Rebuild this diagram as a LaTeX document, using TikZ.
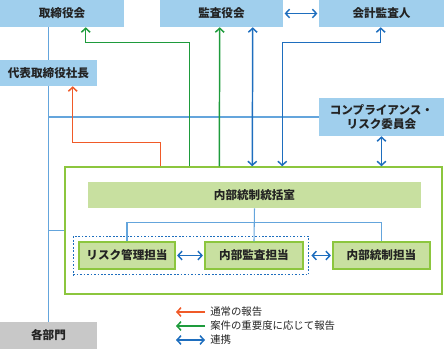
\documentclass[tikz,border=0pt]{standalone}
\usepackage{fontspec}
\setmainfont{Noto Sans CJK JP}
\usetikzlibrary{arrows.meta,calc,fit,backgrounds}
\definecolor{boxblue}{RGB}{160,207,237}
\definecolor{boxgreen}{RGB}{200,224,160}
\definecolor{edgegreen}{RGB}{140,198,62}
\definecolor{boxgray}{RGB}{200,200,200}
\definecolor{arrorange}{RGB}{240,90,40}
\definecolor{arrgreen}{RGB}{30,155,60}
\definecolor{arrblue}{RGB}{30,110,190}
\definecolor{thinblue}{RGB}{100,165,220}
\definecolor{txt}{RGB}{35,35,35}
\tikzset{
  sz/.style 2 args={minimum width=#1*0.75pt, minimum height=#2*0.75pt},
  basebox/.style={inner sep=0pt, text=txt, font=\bfseries\fontsize{8.7pt}{10.5pt}\selectfont, align=center},
  bluebox/.style={basebox, fill=boxblue},
  graybox/.style={basebox, fill=boxgray},
  greenbox/.style={basebox, fill=boxgreen, draw=edgegreen, line width=1.1pt},
  outerbox/.style={draw=edgegreen, line width=1.1pt, inner sep=0pt},
  orarr/.style={draw=arrorange, line width=1.1pt, -{Straight Barb[length=3pt,width=6.5pt]}},
  grarr/.style={draw=arrgreen, line width=1.1pt, -{Straight Barb[length=3pt,width=6.5pt]}},
  blarr/.style={draw=arrblue, line width=1.1pt, {Straight Barb[length=3pt,width=6.5pt]}-{Straight Barb[length=3pt,width=6.5pt]}},
  thin/.style={draw=thinblue, line width=0.8pt},
  grpbox/.style={draw=arrblue, line width=1pt, dash pattern=on 1.3pt off 1.3pt, inner sep=3.75pt},
  leg/.style={inner sep=0pt, text=txt, font=\fontsize{7.8pt}{9pt}\selectfont, anchor=west}
}
\begin{document}
\begin{tikzpicture}[x=0.75pt,y=-0.75pt]
\useasboundingbox (0,0) rectangle (444,349);
% boxes
\node[bluebox, sz={124}{27}] (tori) at (62,13.5) {取締役会};
\node[bluebox, sz={123}{27}] (kansa) at (221.5,13.5) {監査役会};
\node[bluebox, sz={125}{27}] (kaikei) at (381.5,13.5) {会計監査人};
\node[bluebox, sz={97}{26}] (daihyo) at (48.5,73) {代表取締役社長};
\node[bluebox, sz={125}{38}] (comp) at (381.5,117) {コンプライアンス・\\リスク委員会};
\node[outerbox, sz={377}{127}] (outer) at (253.5,230.5) {};
\node[basebox, fill=boxgreen, sz={333}{26}] (tokatsu) at (254.5,195) {内部統制統括室};
\node[greenbox, sz={96}{27}] (risk) at (127,255.5) {リスク管理担当};
\node[greenbox, sz={98}{27}] (naikan) at (254,255.5) {内部監査担当};
\node[greenbox, sz={97}{27}] (tosei) at (381.5,255.5) {内部統制担当};
\node[graybox, sz={97}{27}] (kakubu) at (48.5,335.5) {各部門};
\node[grpbox, fit=(risk)(naikan)] (grp) {};
% thin lines
\begin{scope}[on background layer]
\draw[thin] (tori.south -| kakubu.north) -- (kakubu.north);
\draw[thin] (comp.west -| kakubu.north) -- (comp.west);
\draw[thin] (outer.west -| kakubu.north) -- (outer.west);
\end{scope}
\draw[thin] (tokatsu.south) -- (naikan.north);
\draw[thin] (risk.north) -- ++(0,-19) -| (tosei.north);
% arrows
\draw[orarr] ($(outer.north west)+(96,0)$) -- ++(0,-24) -| ($(daihyo.south west)+(73,0)$);
\draw[grarr] ($(outer.north west)+(125,0)$) -- ++(0,-124) -| ($(tori.south west)+(86,0)$);
\draw[grarr] ($(outer.north west)+(155,0)$) -- ($(kansa.south west)+(60,0)$);
\draw[blarr] ($(kansa.south west)+(93,0)$) -- ($(outer.north west)+(188,0)$);
\draw[blarr] ($(outer.north west)+(218,0)$) -- ++(0,-124) -| ($(kaikei.south west)+(62,0)$);
\draw[blarr] ([xshift=1pt]kansa.east) -- ([xshift=-1pt]kaikei.west);
\draw[blarr] (comp.south) -- (comp.south |- outer.north);
\draw[blarr] ([xshift=1pt]risk.east) -- ([xshift=-1pt]naikan.west);
\draw[blarr] ([xshift=1.5pt]grp.east |- tosei.west) -- ([xshift=-1pt]tosei.west);
% legend
\node[leg] (l1) at (210,312) {通常の報告};
\node[leg] (l2) at (210,326) {案件の重要度に応じて報告};
\node[leg] (l3) at (210,340) {連携};
\draw[orarr] ($(l1.west)+(-5,0)$) -- ($(l1.west)+(-34,0)$);
\draw[grarr] ($(l2.west)+(-5,0)$) -- ($(l2.west)+(-34,0)$);
\draw[blarr] ($(l3.west)+(-5,0)$) -- ($(l3.west)+(-34,0)$);
\end{tikzpicture}
\end{document}
